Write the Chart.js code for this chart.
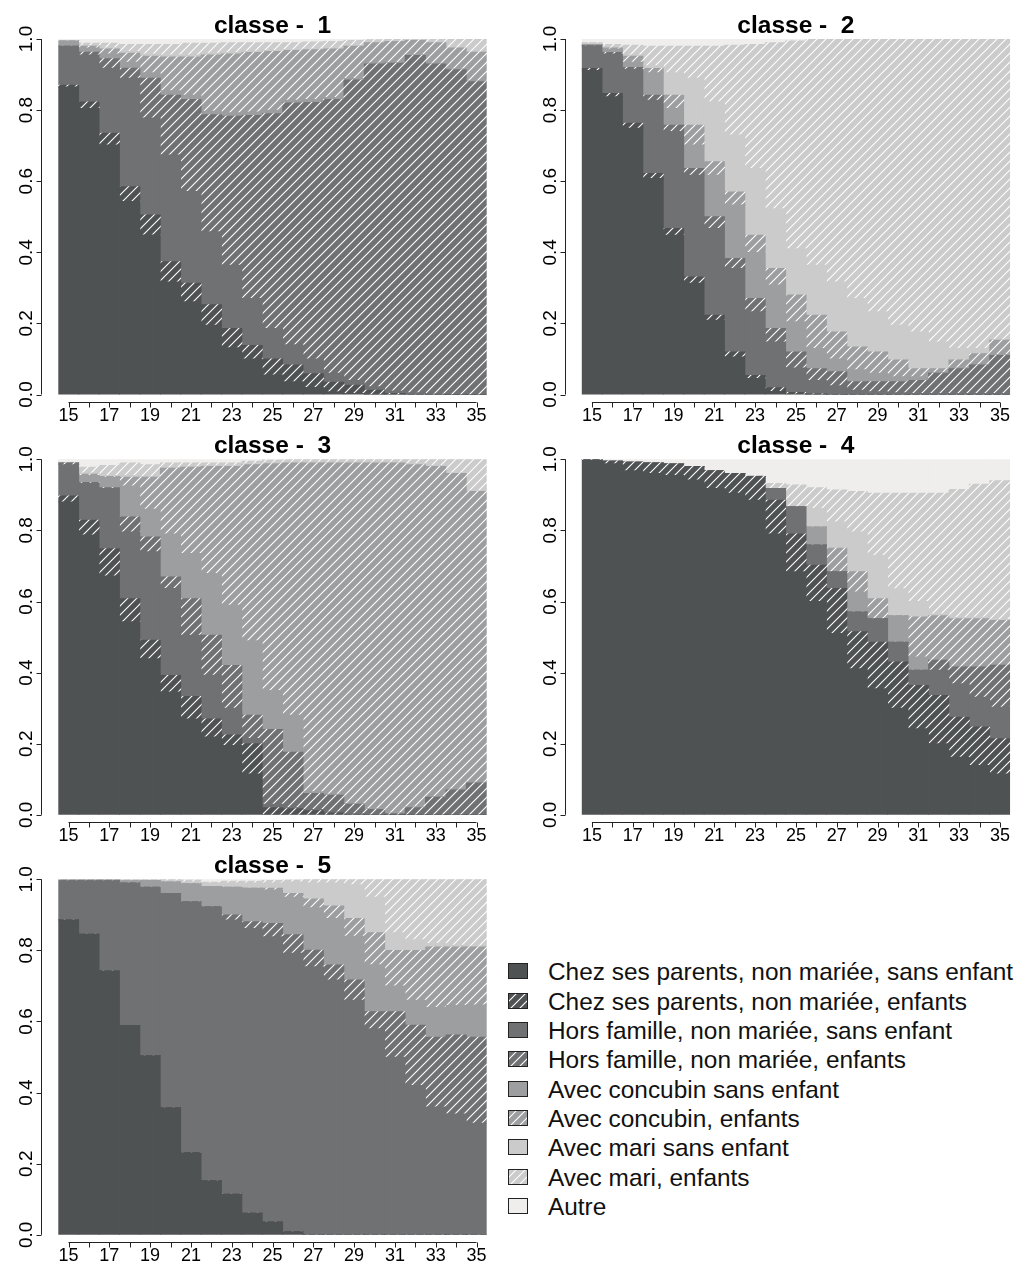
<!DOCTYPE html>
<html>
<head>
<meta charset="utf-8">
<script src="https://cdn.jsdelivr.net/npm/chart.js@4.4.1/dist/chart.umd.min.js"></script>
<style>
  html, body { margin: 0; padding: 0; background: #fff; overflow: hidden; }
  body { width: 1015px; height: 1265px; position: relative; font-family: "Liberation Sans", Arial, sans-serif; }
  canvas.panel { position: absolute; }
  .lg-row { position: absolute; left: 0; white-space: nowrap; font-size: 24.4px; line-height: 28px; color: #111; }
  .lg-row canvas { position: absolute; }
  .lg-row span { position: absolute; left: 40px; top: 0; }
</style>
</head>
<body>
<div id="legend" style="position:absolute;left:508px;top:0;width:507px;height:1265px;"></div>
<script>
// Ages on the horizontal axis (one bar per age)
const ages = [15,16,17,18,19,20,21,22,23,24,25,26,27,28,29,30,31,32,33,34,35];
const xTickLabels = ['15','','17','','19','','21','','23','','25','','27','','29','','31','','33','','35'];
const yTicks = [0, 0.2, 0.4, 0.6, 0.8, 1.0];
const yTickLabels = ['0.0', '0.2', '0.4', '0.6', '0.8', '1.0'];

const states = [
  'Chez ses parents, non mariée, sans enfant',
  'Chez ses parents, non mariée, enfants',
  'Hors famille, non mariée, sans enfant',
  'Hors famille, non mariée, enfants',
  'Avec concubin sans enfant',
  'Avec concubin, enfants',
  'Avec mari sans enfant',
  'Avec mari, enfants',
  'Autre'
];

// Share of each state by age, one row per state (same order as `states`)
const classe1 = [
  [.865,.805,.702,.543,.449,.317,.261,.195,.132,.100,.055,.036,.020,.008,.003,0,0,0,0,0,0],
  [.005,.018,.033,.042,.056,.057,.052,.058,.054,.038,.045,.047,.039,.027,.023,.012,.003,0,0,0,0],
  [.110,.132,.183,.305,.273,.300,.258,.205,.178,.132,.086,.057,.041,.025,.014,.010,.007,.005,.002,0,0],
  [0,.008,.027,.028,.112,.168,.259,.329,.419,.515,.604,.680,.722,.770,.845,.908,.922,.949,.928,.914,.880],
  [.015,.012,.013,.017,.015,.013,.012,.010,.010,.010,.010,.008,.008,.006,.004,.003,.002,.002,.002,.002,.002],
  [0,.005,.014,.025,.047,.095,.108,.158,.165,.167,.165,.140,.140,.136,.091,.057,.059,.040,.058,.059,.081],
  [0,.002,.003,.005,.006,.005,.005,.005,.004,.004,.003,.002,.002,.002,.002,.001,.001,.001,.001,.001,.001],
  [.001,.006,.013,.020,.027,.030,.033,.028,.028,.024,.022,.020,.020,.019,.014,.007,.006,.003,.009,.024,.036],
  [.004,.012,.012,.015,.015,.015,.012,.012,.010,.010,.010,.010,.008,.007,.004,.002,0,0,0,0,0]
];

const classe2 = [
  [.912,.838,.749,.608,.448,.313,.209,.106,.045,.009,.002,0,0,0,0,0,0,0,0,0,0],
  [.005,.009,.014,.014,.019,.018,.014,.014,.009,.010,.004,.002,0,0,0,0,0,0,0,0,0],
  [.064,.111,.152,.206,.273,.286,.244,.235,.179,.129,.069,.038,.025,.012,.008,.005,.003,.003,.003,.003,.003],
  [0,.004,.005,.014,.018,.019,.033,.028,.037,.038,.045,.033,.039,.024,.028,.031,.037,.057,.070,.080,.107],
  [.004,.010,.015,.063,.047,.066,.117,.150,.130,.122,.085,.057,.036,.034,.024,.014,.010,.002,.002,.002,.002],
  [0,.003,.017,.012,.037,.056,.038,.037,.048,.047,.075,.093,.076,.064,.060,.047,.023,.011,.022,.030,.041],
  [.003,.002,.003,.008,.063,.132,.169,.160,.188,.168,.130,.141,.141,.136,.113,.098,.103,.075,.033,.015,.002],
  [.002,.008,.028,.055,.075,.090,.156,.253,.349,.467,.585,.636,.683,.730,.767,.805,.824,.852,.870,.870,.845],
  [.010,.015,.017,.020,.020,.020,.020,.017,.015,.010,.005,0,0,0,0,0,0,0,0,0,0]
];

const classe3 = [
  [.880,.787,.672,.543,.439,.346,.270,.219,.195,.115,0,0,0,0,0,0,0,0,0,0,0],
  [.017,.042,.077,.065,.052,.046,.063,.051,.030,.085,.020,.017,.012,.005,0,0,0,0,0,0,0],
  [.088,.104,.169,.188,.249,.245,.172,.123,.075,.015,.010,.003,.003,.003,.003,0,0,0,0,0,0],
  [.005,.002,.002,.042,.042,.032,.103,.112,.120,.065,.210,.156,.045,.047,.027,.015,.003,.020,.050,.070,.090],
  [0,.020,.030,.087,.078,.121,.127,.174,.170,.210,.110,.104,.005,.003,.002,.002,.002,.002,.002,.002,.002],
  [0,.003,.002,.025,.090,.185,.243,.301,.390,.495,.638,.710,.925,.932,.958,.973,.985,.963,.928,.888,.818],
  [0,.004,.003,.005,.002,.002,.002,.002,.002,.002,.002,.002,.002,.002,.002,.002,.002,.003,.003,.002,.002],
  [0,.016,.028,.035,.033,.013,.010,.008,.008,.008,.008,.008,.008,.008,.008,.008,.008,.012,.017,.038,.088],
  [.010,.022,.017,.010,.015,.010,.010,.010,.010,.005,.002,0,0,0,0,0,0,0,0,0,0]
];

const classe4 = [
  [.997,.988,.968,.960,.955,.942,.918,.905,.885,.790,.684,.600,.510,.411,.355,.300,.242,.200,.162,.139,.115],
  [.002,.007,.024,.030,.032,.038,.050,.055,.067,.095,.106,.102,.127,.104,.131,.130,.122,.136,.113,.108,.099],
  [0,0,0,0,0,0,0,0,0,.033,.077,.057,.047,.056,.066,.056,.043,.071,.094,.084,.089],
  [0,0,0,0,0,0,0,0,0,0,0,0,0,0,0,0,0,.028,.047,.085,.118],
  [0,0,0,0,0,0,0,0,0,0,0,.051,0,.056,0,.074,.037,0,0,0,0],
  [0,0,0,0,0,0,0,0,0,0,0,0,.066,.057,.056,0,.113,.125,.136,.136,.126],
  [0,0,0,0,0,0,0,0,0,0,0,.052,.074,.112,.122,.076,.043,.005,.003,.004,.003],
  [0,.001,.001,0,0,0,0,0,.003,.014,.061,.058,.090,.114,.175,.269,.305,.340,.360,.374,.390],
  [.001,.004,.007,.010,.013,.020,.032,.040,.045,.068,.072,.080,.086,.090,.095,.095,.095,.095,.085,.070,.060]
];

const classe5 = [
  [.886,.846,.742,.589,.504,.358,.231,.152,.114,.061,.036,.009,0,0,0,0,0,0,0,0,0],
  [0,0,0,0,0,0,0,0,0,0,0,0,0,0,0,0,0,0,0,0,0],
  [.110,.150,.254,.401,.474,.602,.706,.771,.772,.801,.803,.783,.754,.717,.660,.580,.500,.420,.360,.340,.314],
  [0,0,0,0,0,0,0,0,.014,.019,.037,.052,.047,.042,.057,.048,.128,.170,.196,.222,.242],
  [.002,.002,.002,.006,.019,.033,.051,.057,.078,.094,.094,.106,.119,.131,.123,.132,.072,.070,.084,.083,.091],
  [0,0,0,0,0,0,0,0,0,0,.005,.010,.025,.035,.050,.090,.100,.140,.170,.165,.163],
  [.001,.001,.001,.002,.001,.003,.005,.010,.012,.015,.015,.033,.045,.065,.095,.100,.050,.030,.010,.005,.002],
  [.001,.001,.001,.002,.002,.004,.005,.002,.005,.005,.007,.005,.010,.010,.015,.050,.150,.170,.180,.185,.188],
  [0,0,0,0,0,0,.002,.008,.005,.005,.003,.002,0,0,0,0,0,0,0,0,0]
];

// Grey levels and hatching per state
const stateColors = ['#4f5253','#4f5253','#707173','#707173','#9d9e9f','#9d9e9f','#cbcbcb','#cbcbcb','#efeeec'];
const stateHatched = [false,true,false,true,false,true,false,true,false];

const FONT = '"Liberation Sans", Arial, sans-serif';

// Solid grey, or grey with thin white 45° shading lines
function makeFill(color, hatched) {
  if (!hatched) return color;
  const s = 9;
  const tile = document.createElement('canvas');
  tile.width = s; tile.height = s;
  const g = tile.getContext('2d');
  g.fillStyle = color;
  g.fillRect(0, 0, s, s);
  g.strokeStyle = '#ffffff';
  g.lineWidth = 1.1;
  g.beginPath();
  g.moveTo(-1, s + 1); g.lineTo(s + 1, -1);
  g.moveTo(-1, 1); g.lineTo(1, -1);
  g.moveTo(s - 1, s + 1); g.lineTo(s + 1, s - 1);
  g.stroke();
  return g.createPattern(tile, 'repeat');
}
const fills = stateColors.map((c, i) => makeFill(c, stateHatched[i]));

// R-style axes: detached y axis with rotated labels, x axis spanning first..last tick
const rAxes = {
  id: 'rAxes',
  afterDraw(chart, args, opts) {
    const { ctx, chartArea, scales } = chart;
    const x = scales.x, y = scales.y;
    ctx.save();
    ctx.strokeStyle = '#222';
    ctx.fillStyle = '#000';
    ctx.lineWidth = 1;

    // y axis
    const ax = Math.round(chartArea.left - 17) + 0.5;
    ctx.beginPath();
    ctx.moveTo(ax, y.getPixelForValue(0));
    ctx.lineTo(ax, y.getPixelForValue(1));
    yTicks.forEach(v => {
      const py = Math.round(y.getPixelForValue(v)) + 0.5;
      ctx.moveTo(ax, py); ctx.lineTo(ax - 5, py);
    });
    ctx.stroke();
    ctx.font = '19px ' + FONT;
    ctx.textAlign = 'center';
    ctx.textBaseline = 'alphabetic';
    yTicks.forEach((v, i) => {
      const py = y.getPixelForValue(v);
      ctx.save();
      ctx.translate(ax - 10, py);
      ctx.rotate(-Math.PI / 2);
      ctx.fillText(yTickLabels[i], 0, 0);
      ctx.restore();
    });

    // x axis
    const ay = Math.round(chartArea.bottom + 7) + 0.5;
    ctx.beginPath();
    ctx.moveTo(x.getPixelForValue(0), ay);
    ctx.lineTo(x.getPixelForValue(ages.length - 1), ay);
    ages.forEach((a, i) => {
      const px = Math.round(x.getPixelForValue(i)) + 0.5;
      ctx.moveTo(px, ay); ctx.lineTo(px, ay + 5);
    });
    ctx.stroke();
    ctx.font = '18px ' + FONT;
    ctx.textAlign = 'center';
    ctx.textBaseline = 'alphabetic';
    ages.forEach((a, i) => {
      if (xTickLabels[i]) ctx.fillText(xTickLabels[i], x.getPixelForValue(i), chartArea.bottom + 26.5);
    });

    // panel title
    ctx.font = 'bold 24.5px ' + FONT;
    ctx.fillText(opts.title, (chartArea.left + chartArea.right) / 2, chartArea.top - 6.5);
    ctx.restore();
  }
};

const PW = 428.4, PH = 355.5;
const panels = [
  { title: 'classe -  1', data: classe1, plotLeft: 58.3,  plotTop: 39.0 },
  { title: 'classe -  2', data: classe2, plotLeft: 581.7, plotTop: 39.0 },
  { title: 'classe -  3', data: classe3, plotLeft: 58.3,  plotTop: 459.3 },
  { title: 'classe -  4', data: classe4, plotLeft: 581.7, plotTop: 459.3 },
  { title: 'classe -  5', data: classe5, plotLeft: 58.3,  plotTop: 879.3 }
];

panels.forEach(p => {
  const cx = Math.floor(p.plotLeft - 58), cy = Math.floor(p.plotTop - 39);
  const W = Math.min(492, 1015 - cx), H = 426;
  const cv = document.createElement('canvas');
  cv.className = 'panel';
  cv.width = W; cv.height = H;
  cv.style.left = cx + 'px'; cv.style.top = cy + 'px';
  cv.style.width = W + 'px'; cv.style.height = H + 'px';
  document.body.appendChild(cv);
  const padL = p.plotLeft - cx, padT = p.plotTop - cy;
  new Chart(cv, {
    type: 'bar',
    data: {
      labels: ages.map(String),
      datasets: states.map((s, k) => ({
        label: s,
        data: p.data[k],
        backgroundColor: fills[k],
        borderWidth: 0,
        barPercentage: 1,
        categoryPercentage: 1,
        inflateAmount: 0.4
      }))
    },
    options: {
      responsive: false,
      animation: false,
      events: [],
      layout: { padding: { left: padL, top: padT, right: W - padL - PW, bottom: H - padT - PH } },
      plugins: {
        legend: { display: false },
        tooltip: { enabled: false },
        title: { display: false },
        rAxes: { title: p.title }
      },
      scales: {
        x: { stacked: true, display: false, offset: true },
        y: { stacked: true, display: false, min: 0, max: 1 }
      }
    },
    plugins: [rAxes]
  });
});

// Legend
const legend = document.getElementById('legend');
states.forEach((s, i) => {
  const row = document.createElement('div');
  row.className = 'lg-row';
  const top = 958.4 + i * 29.33;
  row.style.top = top + 'px';
  const sw = document.createElement('canvas');
  sw.width = 20; sw.height = 16;
  sw.style.left = '0px';
  sw.style.top = '5px';
  const g = sw.getContext('2d');
  g.fillStyle = fills[i];
  g.fillRect(0, 0, 20, 16);
  g.strokeStyle = '#222';
  g.lineWidth = 1;
  g.strokeRect(0.5, 0.5, 19, 15);
  row.appendChild(sw);
  const t = document.createElement('span');
  t.textContent = s;
  row.appendChild(t);
  legend.appendChild(row);
});
</script>
</body>
</html>
